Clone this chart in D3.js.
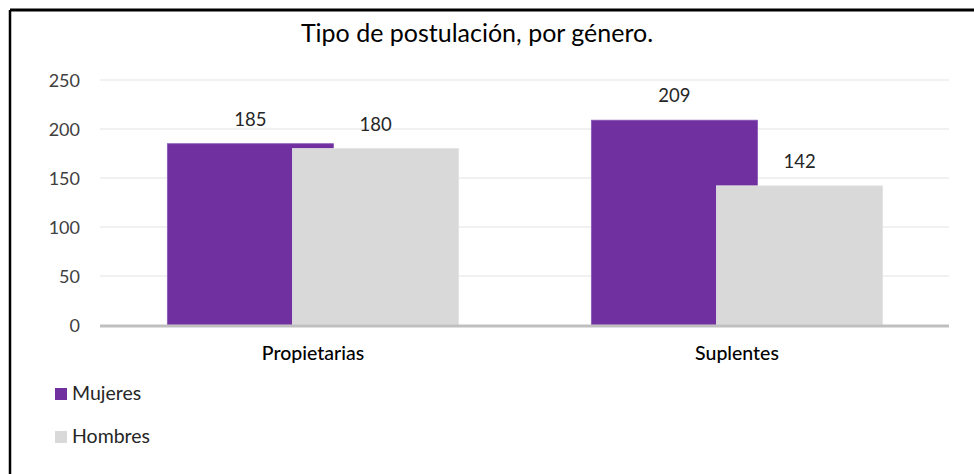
<!DOCTYPE html>
<html>
<head>
<meta charset="utf-8">
<script src="https://cdn.jsdelivr.net/npm/d3@7"></script>
<style>
  html, body { margin: 0; padding: 0; background: #fff; }
  svg { display: block; font-family: Lato, "Open Sans", sans-serif; }
</style>
</head>
<body>
<svg id="chart" width="974" height="474"></svg>
<script>
// Candidaturas por tipo de postulación y género
const categories = ["Propietarias", "Suplentes"];
const seriesNames = ["Mujeres", "Hombres"];
const mujeres = [185, 209];
const hombres = [180, 142];
const yTicks = [0, 50, 100, 150, 200, 250];
const colors = ["#7030a0", "#d9d9d9"];
const title = "Tipo de postulación, por género.";

const svg = d3.select("#chart");
const W = 974, H = 474;
const plot = { left: 100, right: 948, top: 80, bottom: 325 };

// Marco del gráfico (borde superior e izquierdo)
svg.append("rect").attr("x", 0).attr("y", 0).attr("width", W).attr("height", H).attr("fill", "#fff");
svg.append("line").attr("x1", 10).attr("x2", W).attr("y1", 10).attr("y2", 10)
  .attr("stroke", "#000").attr("stroke-width", 3);
svg.append("line").attr("x1", 10).attr("x2", 10).attr("y1", 10).attr("y2", H)
  .attr("stroke", "#000").attr("stroke-width", 2.5);

svg.append("text").attr("x", 477).attr("y", 42).attr("text-anchor", "middle")
  .attr("font-size", 25).attr("fill", "#000").text(title);

const y = d3.scaleLinear().domain([0, 250]).range([plot.bottom, plot.top]);
const x0 = d3.scaleBand().domain(categories).range([plot.left + 1, plot.right + 1]).padding(0);

// Cuadrícula horizontal
svg.append("g").selectAll("line").data(yTicks.filter(t => t > 0)).join("line")
  .attr("x1", plot.left).attr("x2", plot.right + 1)
  .attr("y1", d => y(d)).attr("y2", d => y(d))
  .attr("stroke", "#ededed").attr("stroke-width", 1.5);

// Eje Y (solo etiquetas)
const yAxis = d3.axisLeft(y).tickValues(yTicks).tickSize(0).tickPadding(0);
const gy = svg.append("g").attr("transform", `translate(80,0)`).call(yAxis);
gy.select(".domain").remove();
gy.selectAll("text").attr("font-size", 18).attr("fill", "#404040")
  .attr("font-family", "Lato, sans-serif").attr("dy", "0.35em");

// Barras superpuestas dentro de cada grupo
const barW = x0.bandwidth() * 0.392;
const shift = x0.bandwidth() * 0.295;
const x1 = d3.scaleOrdinal().domain(seriesNames).range([-shift / 2 - barW / 2, shift / 2 - barW / 2]);
const seriesValues = [mujeres, hombres];

seriesNames.forEach((s, si) => {
  const g = svg.append("g");
  const data = categories.map((c, i) => ({ c, v: seriesValues[si][i] }));
  g.selectAll("rect").data(data).join("rect")
    .attr("x", d => x0(d.c) + x0.bandwidth() / 2 + x1(s))
    .attr("y", d => y(d.v))
    .attr("width", barW)
    .attr("height", d => y(0) - y(d.v))
    .attr("fill", colors[si])
    .attr("stroke", si === 0 ? "#8a5ab5" : "#e4e4e4").attr("stroke-width", 0.8);
  g.selectAll("text").data(data).join("text")
    .attr("x", d => x0(d.c) + x0.bandwidth() / 2 + x1(s) + barW / 2)
    .attr("y", d => y(d.v) - 18)
    .attr("text-anchor", "middle")
    .attr("font-size", 18.5).attr("fill", "#262626")
    .text(d => d.v);
});

// Eje X
svg.append("line").attr("x1", plot.left).attr("x2", plot.right + 1)
  .attr("y1", y(0) + 1).attr("y2", y(0) + 1)
  .attr("stroke", "#bfbfbf").attr("stroke-width", 3);
const xAxis = d3.axisBottom(x0).tickSize(0).tickPadding(0);
const gx = svg.append("g").attr("transform", `translate(0,${y(0)})`).call(xAxis);
gx.select(".domain").remove();
gx.selectAll("text").attr("font-size", 19.5).attr("fill", "#000")
  .attr("font-family", "Lato, sans-serif").attr("font-weight", 500)
  .attr("dy", 0).attr("y", 35);

// Leyenda
const legend = svg.append("g").selectAll("g").data(seriesNames).join("g")
  .attr("transform", (d, i) => `translate(55,${388 + i * 43})`);
legend.append("rect").attr("width", 12).attr("height", 12)
  .attr("fill", (d, i) => colors[i]);
legend.append("text").attr("x", 17).attr("y", 12).attr("font-size", 19.5)
  .attr("fill", "#262626").text(d => d);
</script>
</body>
</html>
